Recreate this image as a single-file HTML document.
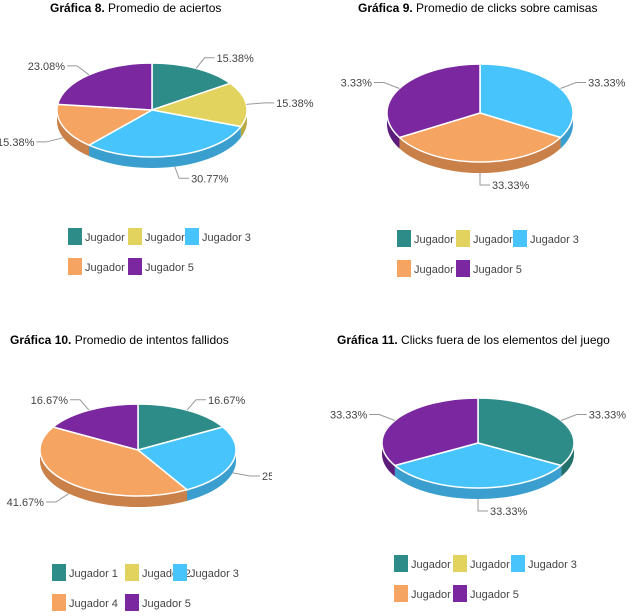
<!DOCTYPE html>
<html><head><meta charset="utf-8"><style>
body{margin:0;background:#fff;width:632px;height:616px;overflow:hidden;font-family:"Liberation Sans",sans-serif}
svg{position:absolute;left:0;top:0}
</style></head><body>
<svg id="s" width="632" height="616">
<defs><clipPath id="c3"><rect x="0" y="380" width="272" height="140"/></clipPath></defs>
<g font-size="12" fill="#000">
<text x="50" y="12"><tspan font-weight="bold">Gráfica 8.</tspan> Promedio de aciertos</text>
<text x="358" y="12"><tspan font-weight="bold">Gráfica 9.</tspan> Promedio de clicks sobre camisas</text>
<text x="10" y="344"><tspan font-weight="bold">Gráfica 10.</tspan> Promedio de intentos fallidos</text>
<text x="337" y="344"><tspan font-weight="bold">Gráfica 11.</tspan> Clicks fuera de los elementos del juego</text>
</g>
</svg>
<script>
const players=["Jugador 1","Jugador 2","Jugador 3","Jugador 4","Jugador 5"];
const values8=[15.38,15.38,30.77,15.38,23.08];
const values9=[0,0,33.33,33.33,33.33];
const values10=[16.67,0,25.0,41.67,16.67];
const values11=[33.33,0,33.33,0,33.33];
const labels8=["15.38%","15.38%","30.77%","15.38%","23.08%"];
const labels9=["","","33.33%","33.33%","3.33%"];
const labels10=["16.67%","","25.00%","41.67%","16.67%"];
const labels11=["33.33%","","33.33%","","33.33%"];
const colors=["#2e8c88","#e2d35e","#46c4fb","#f5a462","#7a27a0"];
const sides=["#22706c","#b8a940","#3a9fcf","#c98049","#5c1c7a"];
const NS="http://www.w3.org/2000/svg";
const svg=document.getElementById('s');
function mk(t,a,p){const e=document.createElementNS(NS,t);for(const k in a)e.setAttribute(k,a[k]);(p||svg).appendChild(e);return e;}
function pt(c,t,dy){return [c.cx+c.rx*Math.sin(t),c.cy-c.ry*Math.cos(t)+(dy||0)];}
function pie(c,vals,labs,name,clip){
 const g=mk('g',clip?{'clip-path':clip}:{});
 
 
 const tot=vals.reduce((a,b)=>a+b,0);let a=0;const sl=[];
 vals.forEach((v,i)=>{if(v<=0)return;const a0=a,a1=a+v/tot*2*Math.PI;a=a1;sl.push([i,a0,a1]);});
 const D=c.d;
 sl.forEach(([i,a0,a1])=>{
  const s=Math.max(a0,Math.PI/2),e=Math.min(a1,1.5*Math.PI);if(e<=s)return;
  const p0=pt(c,s),p1=pt(c,e),q1=pt(c,e,D),q0=pt(c,s,D);
  const p=mk('path',{d:`M${p0}A${c.rx},${c.ry} 0 0 1 ${p1}L${q1}A${c.rx},${c.ry} 0 0 0 ${q0}Z`,fill:sides[i]},g);
  
  
 });
 sl.forEach(([i,a0,a1])=>{
  const p0=pt(c,a0),p1=pt(c,a1),lg=(a1-a0)>Math.PI?1:0;
  const p=mk('path',{d:`M${c.cx},${c.cy}L${p0}A${c.rx},${c.ry} 0 ${lg} 1 ${p1}Z`,fill:colors[i],stroke:'#fff','stroke-width':1.5},g);
  
  
  if(!labs[i])return;
  const m=(a0+a1)/2,front=Math.cos(m)<0?D:0;
  const s=pt(c,m,front),rx=c.rx,ry=c.ry;
  const ex=c.cx+(rx+18)*Math.sin(m),ey=c.cy-(ry+12)*Math.cos(m)+front;
  const right=Math.sin(m)>=0;const hx=ex+(right?10:-10);
  mk('path',{d:`M${s}L${ex},${ey}L${hx},${ey}`,fill:'none',stroke:'#999','stroke-width':1},g);
  const t=mk('text',{x:hx+(right?2:-2),y:ey+4,'font-size':11,fill:'#444','text-anchor':right?'start':'end'},g);
  t.textContent=labs[i];
  
  
 });
}
function legend(x,y,dx,name){
 const g=mk('g',{});
 
 
 players.forEach((p,i)=>{
  const r=i<3?0:1,col=i<3?i:i-3;const lx=x+dx[col],ly=y+r*30;
  const b=mk('rect',{x:lx,y:ly-8,width:14,height:17,fill:colors[i]},g);
  
  
  const t=mk('text',{x:lx+17,y:ly+5,'font-size':11,fill:'#444'},g);
  t.textContent=p;
  
  
 });
}
pie({cx:152,cy:110,rx:95,ry:47,d:11},values8,labels8,'pie-grafica-8');
pie({cx:480,cy:113,rx:93,ry:49,d:11},values9,labels9,'pie-grafica-9');
pie({cx:138,cy:450,rx:98,ry:46,d:11},values10,labels10,'pie-grafica-10','url(#c3)');
pie({cx:478,cy:443,rx:96,ry:45,d:11},values11,labels11,'pie-grafica-11');
legend(68,236,[0,60,117],'legend-grafica-8');
legend(397,238,[0,59,116],'legend-grafica-9');
legend(52,572,[0,73,121],'legend-grafica-10');
legend(394,563,[0,59,117],'legend-grafica-11');
</script>
</body></html>
